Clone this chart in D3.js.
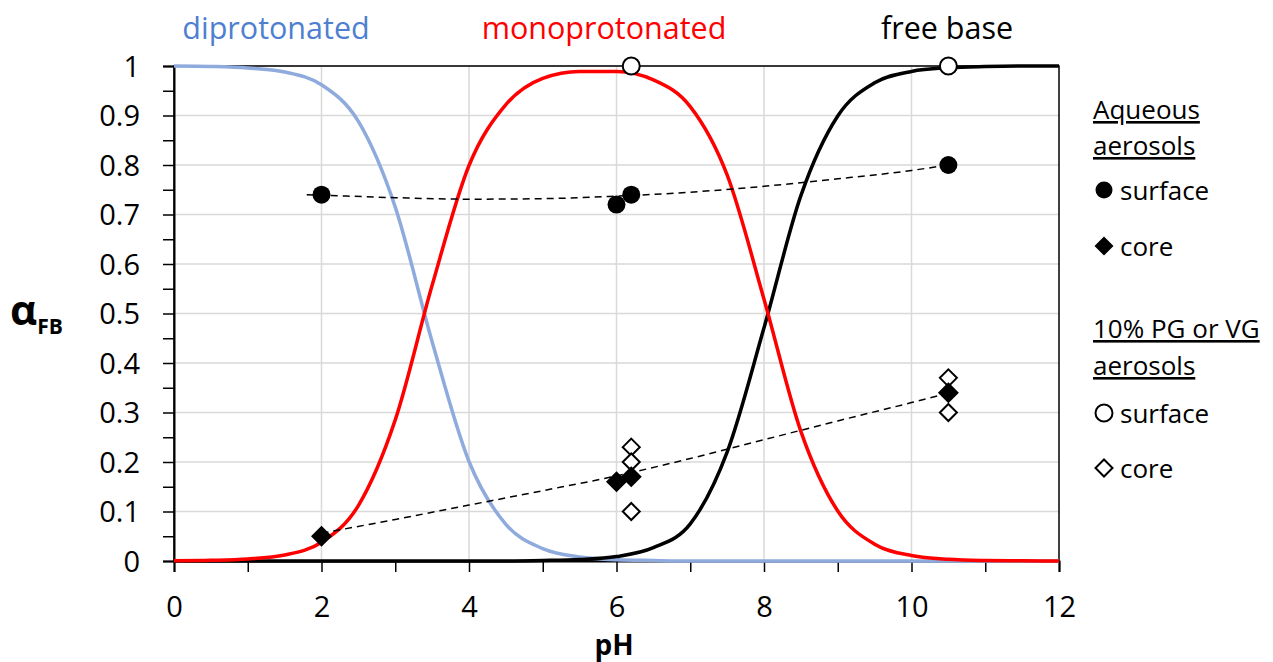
<!DOCTYPE html>
<html>
<head>
<meta charset="utf-8">
<script src="https://cdn.jsdelivr.net/npm/d3@7"></script>
<style>
  body { margin: 0; background: #fff; }
  text { font-family: "Open Sans", "Liberation Sans", Arial, sans-serif; }
</style>
</head>
<body>
<div id="chart"></div>
<script>
// speciation curves at 0.5 pH steps
var pH = [0, 0.5, 1, 1.5, 2, 2.5, 3, 3.5, 4, 4.5, 5, 5.5, 6, 6.5, 7, 7.5, 8, 8.5, 9, 9.5, 10, 10.5, 11, 11.5, 12];
var diprotonated = [1.000, 0.999, 0.996, 0.988, 0.962, 0.888, 0.715, 0.443, 0.201, 0.074, 0.025, 0.008, 0.0025, 0.001, 0, 0, 0, 0, 0, 0, 0, 0, 0, 0, 0];
var monoprotonated = [0.0004, 0.0013, 0.004, 0.012, 0.038, 0.112, 0.285, 0.557, 0.799, 0.922, 0.975, 0.989, 0.989, 0.972, 0.918, 0.780, 0.529, 0.262, 0.101, 0.034, 0.011, 0.0035, 0.0011, 0.0004, 0.0001];
var freeBase = [0, 0, 0, 0, 0, 0, 0, 0, 0, 0, 0.001, 0.003, 0.009, 0.027, 0.075, 0.220, 0.471, 0.738, 0.899, 0.966, 0.989, 0.9965, 0.999, 1, 1];

// measured points
var aqSurface = [[2, 0.74], [6, 0.72], [6.2, 0.74], [10.5, 0.80]];
var aqCore = [[2, 0.05], [6, 0.16], [6.2, 0.17], [10.5, 0.34]];
var pgSurface = [[6.2, 1.0], [10.5, 1.0]];
var pgCore = [[6.2, 0.23], [6.2, 0.20], [6.2, 0.10], [10.5, 0.37], [10.5, 0.30]];

// dashed trend lines
var trendSurface = [[1.8, 0.740], [2, 0.739], [3, 0.734], [4, 0.731], [5, 0.732], [6, 0.737], [7, 0.745], [8, 0.757], [9, 0.772], [10, 0.789], [10.5, 0.800]];
var trendCore = [[2, 0.056], [3, 0.084], [4, 0.113], [5, 0.142], [6, 0.172], [7, 0.207], [8, 0.245], [9, 0.283], [10, 0.320], [10.5, 0.339]];

var xTicks = [0, 2, 4, 6, 8, 10, 12];
var yTicks = [0, 0.1, 0.2, 0.3, 0.4, 0.5, 0.6, 0.7, 0.8, 0.9, 1];

function drawChart() {
    "use strict";
    var W = 1273, H = 662;
    var pLeft = 174, pRight = 1059, pTop = 66, pBottom = 561;

    var svg = d3.select("#chart").append("svg")
        .attr("width", W)
        .attr("height", H);

    var x = d3.scaleLinear().domain([0, 12]).range([pLeft, pRight]);
    var y = d3.scaleLinear().domain([0, 1]).range([pBottom, pTop]);

    // grid
    svg.append("g").selectAll("line")
        .data(yTicks.slice(1))
        .enter().append("line")
        .attr("x1", pLeft).attr("x2", pRight)
        .attr("y1", function (d) { return y(d); })
        .attr("y2", function (d) { return y(d); })
        .style("stroke", "#d9d9d9").style("stroke-width", 1.5);
    svg.append("g").selectAll("line")
        .data(xTicks.slice(1, -1))
        .enter().append("line")
        .attr("y1", pTop).attr("y2", pBottom)
        .attr("x1", function (d) { return x(d); })
        .attr("x2", function (d) { return x(d); })
        .style("stroke", "#d9d9d9").style("stroke-width", 1.5);

    // frame (top / right)
    svg.append("rect")
        .attr("x", pLeft).attr("y", pTop)
        .attr("width", pRight - pLeft).attr("height", pBottom - pTop)
        .style("fill", "none").style("stroke", "#000").style("stroke-width", 1.5);

    // axes
    var xAxis = d3.axisBottom(x).tickValues(d3.range(0, 13, 1)).tickSize(11)
        .tickFormat(function (d) { return d % 2 === 0 ? d : ""; });
    var gx = svg.append("g").attr("transform", "translate(0," + pBottom + ")").call(xAxis);
    gx.selectAll("text").style("font-size", "29px").attr("y", 0).attr("dy", 56).style("fill", "#000");
    gx.selectAll("line").style("stroke-width", 1.5);
    gx.select(".domain").style("stroke-width", 2);

    var yAxis = d3.axisLeft(y).tickValues(d3.range(0, 1.001, 0.05)).tickSize(11)
        .tickFormat(function (d) {
            var r = Math.round(d * 100);
            return r % 10 === 0 ? d3.format("")(r / 100) : "";
        });
    var gy = svg.append("g").attr("transform", "translate(" + pLeft + ",0)").call(yAxis);
    gy.selectAll("text").style("font-size", "29px").attr("x", -34).attr("dy", "0.36em").style("fill", "#000");
    gy.selectAll("line").style("stroke-width", 1.5);
    gy.select(".domain").style("stroke-width", 2);

    // curves
    var line = d3.line()
        .x(function (d) { return x(d[0]); })
        .y(function (d) { return y(d[1]); })
        .curve(d3.curveMonotoneX);

    function series(vals) {
        return pH.map(function (p, i) { return [p, vals[i]]; });
    }

    var curves = [
        { vals: diprotonated, color: "#8faadc" },
        { vals: freeBase, color: "#000000" },
        { vals: monoprotonated, color: "#ff0000" }
    ];
    curves.forEach(function (c) {
        svg.append("path")
            .datum(series(c.vals))
            .attr("d", line)
            .style("fill", "none")
            .style("stroke", c.color)
            .style("stroke-width", 3.5);
    });

    // trend lines
    [trendSurface, trendCore].forEach(function (t) {
        svg.append("path")
            .datum(t)
            .attr("d", line)
            .style("fill", "none")
            .style("stroke", "#000")
            .style("stroke-width", 1.5)
            .style("stroke-dasharray", "7,5");
    });

    // markers
    function circles(data, filled) {
        svg.append("g").selectAll("circle")
            .data(data)
            .enter().append("circle")
            .attr("cx", function (d) { return x(d[0]); })
            .attr("cy", function (d) { return y(d[1]); })
            .attr("r", filled ? 9 : 8.5)
            .style("fill", filled ? "#000" : "#fff")
            .style("stroke", "#000")
            .style("stroke-width", filled ? 0 : 2);
    }
    function diamonds(data, filled) {
        var s = filled ? 10.5 : 8.5;
        svg.append("g").selectAll("path")
            .data(data)
            .enter().append("path")
            .attr("d", "M0," + (-s) + "L" + s + ",0L0," + s + "L" + (-s) + ",0Z")
            .attr("transform", function (d) { return "translate(" + x(d[0]) + "," + y(d[1]) + ")"; })
            .style("fill", filled ? "#000" : "#fff")
            .style("stroke", "#000")
            .style("stroke-width", filled ? 0 : 2);
    }
    diamonds(pgCore, false);
    diamonds(aqCore, true);
    circles(aqSurface, true);
    circles(pgSurface, false);

    // labels above the plot
    var topLabels = [
        { text: "diprotonated", cx: 276, color: "#4f7fd0" },
        { text: "monoprotonated", cx: 604, color: "#ff0000" },
        { text: "free base", cx: 947, color: "#000" }
    ];
    svg.append("g").selectAll("text")
        .data(topLabels)
        .enter().append("text")
        .attr("x", function (d) { return d.cx; })
        .attr("y", 39)
        .attr("text-anchor", "middle")
        .style("font-size", "30.5px")
        .style("fill", function (d) { return d.color; })
        .text(function (d) { return d.text; });

    // axis titles
    svg.append("text")
        .attr("x", 614).attr("y", 655)
        .attr("text-anchor", "middle")
        .style("font-size", "28px").style("font-weight", "bold")
        .text("pH");
    var at = svg.append("text").attr("x", 10).attr("y", 325)
        .style("font-weight", "bold");
    at.append("tspan").style("font-size", "42px").text("α");
    at.append("tspan").attr("dy", 9).style("font-size", "21px").text("FB");

    // legend
    var lx = 1093, mx = 1104, tx = 1120;
    var heads = [
        { text: "Aqueous", y: 119 },
        { text: "aerosols", y: 155 },
        { text: "10% PG or VG", y: 338 },
        { text: "aerosols", y: 375 }
    ];
    svg.append("g").selectAll("text")
        .data(heads)
        .enter().append("text")
        .attr("x", lx).attr("y", function (d) { return d.y; })
        .attr("text-decoration", "underline")
        .style("font-size", "26px")
        .text(function (d) { return d.text; });

    var items = [
        { text: "surface", y: 190, shape: "circle", filled: true },
        { text: "core", y: 246, shape: "diamond", filled: true },
        { text: "surface", y: 413, shape: "circle", filled: false },
        { text: "core", y: 468, shape: "diamond", filled: false }
    ];
    items.forEach(function (it) {
        if (it.shape === "circle") {
            svg.append("circle")
                .attr("cx", mx).attr("cy", it.y).attr("r", 8.5)
                .style("fill", it.filled ? "#000" : "#fff")
                .style("stroke", "#000").style("stroke-width", it.filled ? 0 : 2);
        } else {
            var s = it.filled ? 9.5 : 8.5;
            svg.append("path")
                .attr("d", "M0," + (-s) + "L" + s + ",0L0," + s + "L" + (-s) + ",0Z")
                .attr("transform", "translate(" + mx + "," + it.y + ")")
                .style("fill", it.filled ? "#000" : "#fff")
                .style("stroke", "#000").style("stroke-width", it.filled ? 0 : 2);
        }
        svg.append("text")
            .attr("x", tx).attr("y", it.y + 10)
            .style("font-size", "26px")
            .text(it.text);
    });
}

drawChart();
</script>
</body>
</html>
